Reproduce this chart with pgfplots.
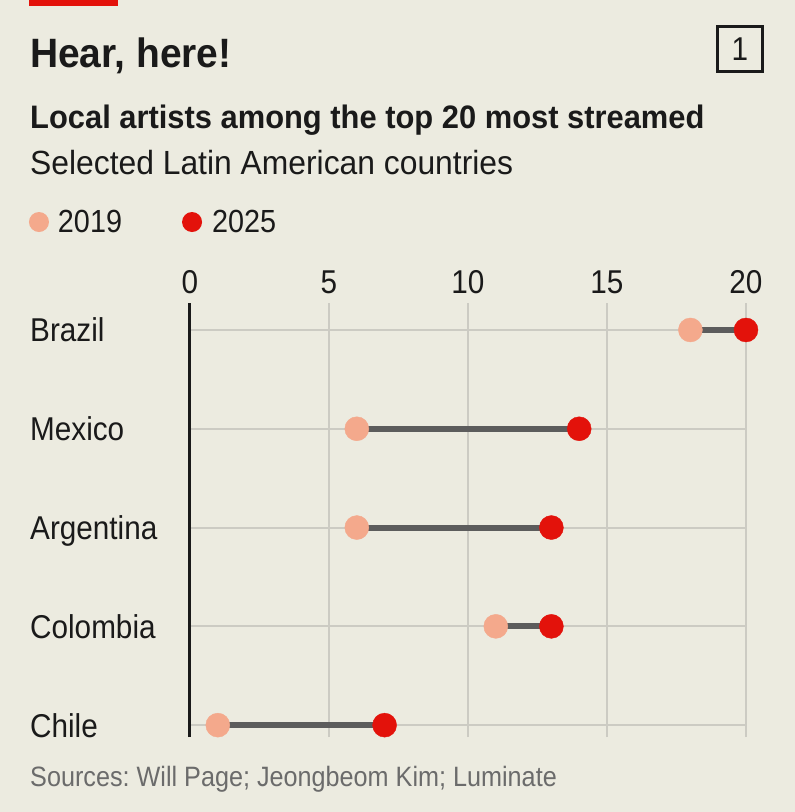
\documentclass[border=0pt]{standalone}
\usepackage{fontspec}
\setmainfont{Liberation Sans}[FakeStretch=0.9]
\newfontfamily\widefont{Liberation Sans}[FakeStretch=0.95]
\usepackage{pgfplots}
\pgfplotsset{compat=1.18}
\definecolor{bg}{RGB}{236,235,224}
\definecolor{ecored}{HTML}{E3120B}
\definecolor{salmon}{HTML}{F4A98C}
\definecolor{conn}{HTML}{5C5C5C}
\definecolor{gridc}{RGB}{204,203,195}
\definecolor{txt}{HTML}{1A1A1A}
\definecolor{src}{HTML}{6B6B6B}
\frenchspacing
\begin{document}
\begin{tikzpicture}[x=1pt,y=1pt]
\fill[bg] (0,0) rectangle (795,812);
\useasboundingbox (0,0) rectangle (795,812);
\fill[ecored] (29,806) rectangle (118,812);
\node[anchor=base west, inner sep=0pt, text=txt] at (30,744) {\widefont\fontsize{41}{41}\selectfont\bfseries Hear, here!};
\node[draw=txt, line width=2.7pt, minimum size=45.5pt, inner sep=0pt, text=txt] at (740,763) {\fontsize{33}{33}\selectfont 1};
\node[anchor=base west, inner sep=0pt, text=txt] at (30,683) {\widefont\fontsize{32.5}{32.5}\selectfont\bfseries Local artists among the top 20 most streamed};
\node[anchor=base west, inner sep=0pt, text=txt] at (30,637) {\widefont\fontsize{33.5}{33.5}\selectfont Selected Latin American countries};
\node[anchor=base west, inner sep=0pt, text=src] at (30,25) {\fontsize{28}{28}\selectfont Sources: Will Page; Jeongbeom Kim; Luminate};
\begin{axis}[
  at={(190pt,75pt)}, anchor=south west,
  scale only axis, width=556pt, height=434pt,
  xmin=0, xmax=20, ymin=-0.12, ymax=4.273,
  clip=false,
  axis x line*=top, axis y line*=left,
  x axis line style={draw=none},
  y axis line style={draw=txt, line width=3pt},
  xtick={0,5,10,15,20},
  ytick={0,1,2,3,4},
  yticklabels={Chile,Colombia,Argentina,Mexico,Brazil},
  major tick length=0pt,
  tick style={draw=none},
  xmajorgrids, ymajorgrids,
  grid style={draw=gridc, line width=2pt},
  /pgf/number format/assume math mode=true,
  xticklabel style={anchor=base, inner sep=0pt, yshift=9pt, font=\fontsize{33}{33}\selectfont, text=txt},
  yticklabel style={anchor=base west, inner sep=0pt, xshift=-160pt, yshift=-12pt, font=\fontsize{33}{33}\selectfont, text=txt},
  legend columns=2,
  legend style={at={(-0.2896,1.1866)}, anchor=west, draw=none, fill=none, inner sep=0pt, outer sep=0pt,
    font=\fontsize{32}{32}\selectfont, text=txt, nodes={inner sep=0pt}, cells={anchor=west},
    /tikz/every even column/.append style={column sep=60pt}},
]
\addplot[forget plot, draw=conn, line width=6pt] coordinates {(18,4) (20,4)};
\addplot[forget plot, draw=conn, line width=6pt] coordinates {(6,3) (14,3)};
\addplot[forget plot, draw=conn, line width=6pt] coordinates {(6,2) (13,2)};
\addplot[forget plot, draw=conn, line width=6pt] coordinates {(11,1) (13,1)};
\addplot[forget plot, draw=conn, line width=6pt] coordinates {(1,0) (7,0)};
\addplot[only marks, mark=*, mark size=12pt, color=salmon, mark options={draw=none, fill=salmon},
  legend image code/.code={\fill[salmon, draw=none] (10pt,0pt) circle (10pt); \path[draw=none, fill=none] (0pt,-10pt) rectangle (29pt,10pt);}]
  coordinates {(18,4) (6,3) (6,2) (11,1) (1,0)};
\addlegendentry{2019}
\addplot[only marks, mark=*, mark size=12pt, color=ecored, mark options={draw=none, fill=ecored},
  legend image code/.code={\fill[ecored, draw=none] (10pt,0pt) circle (10pt); \path[draw=none, fill=none] (0pt,-10pt) rectangle (30pt,10pt);}]
  coordinates {(20,4) (14,3) (13,2) (13,1) (7,0)};
\addlegendentry{2025}
\end{axis}
\end{tikzpicture}
\end{document}
